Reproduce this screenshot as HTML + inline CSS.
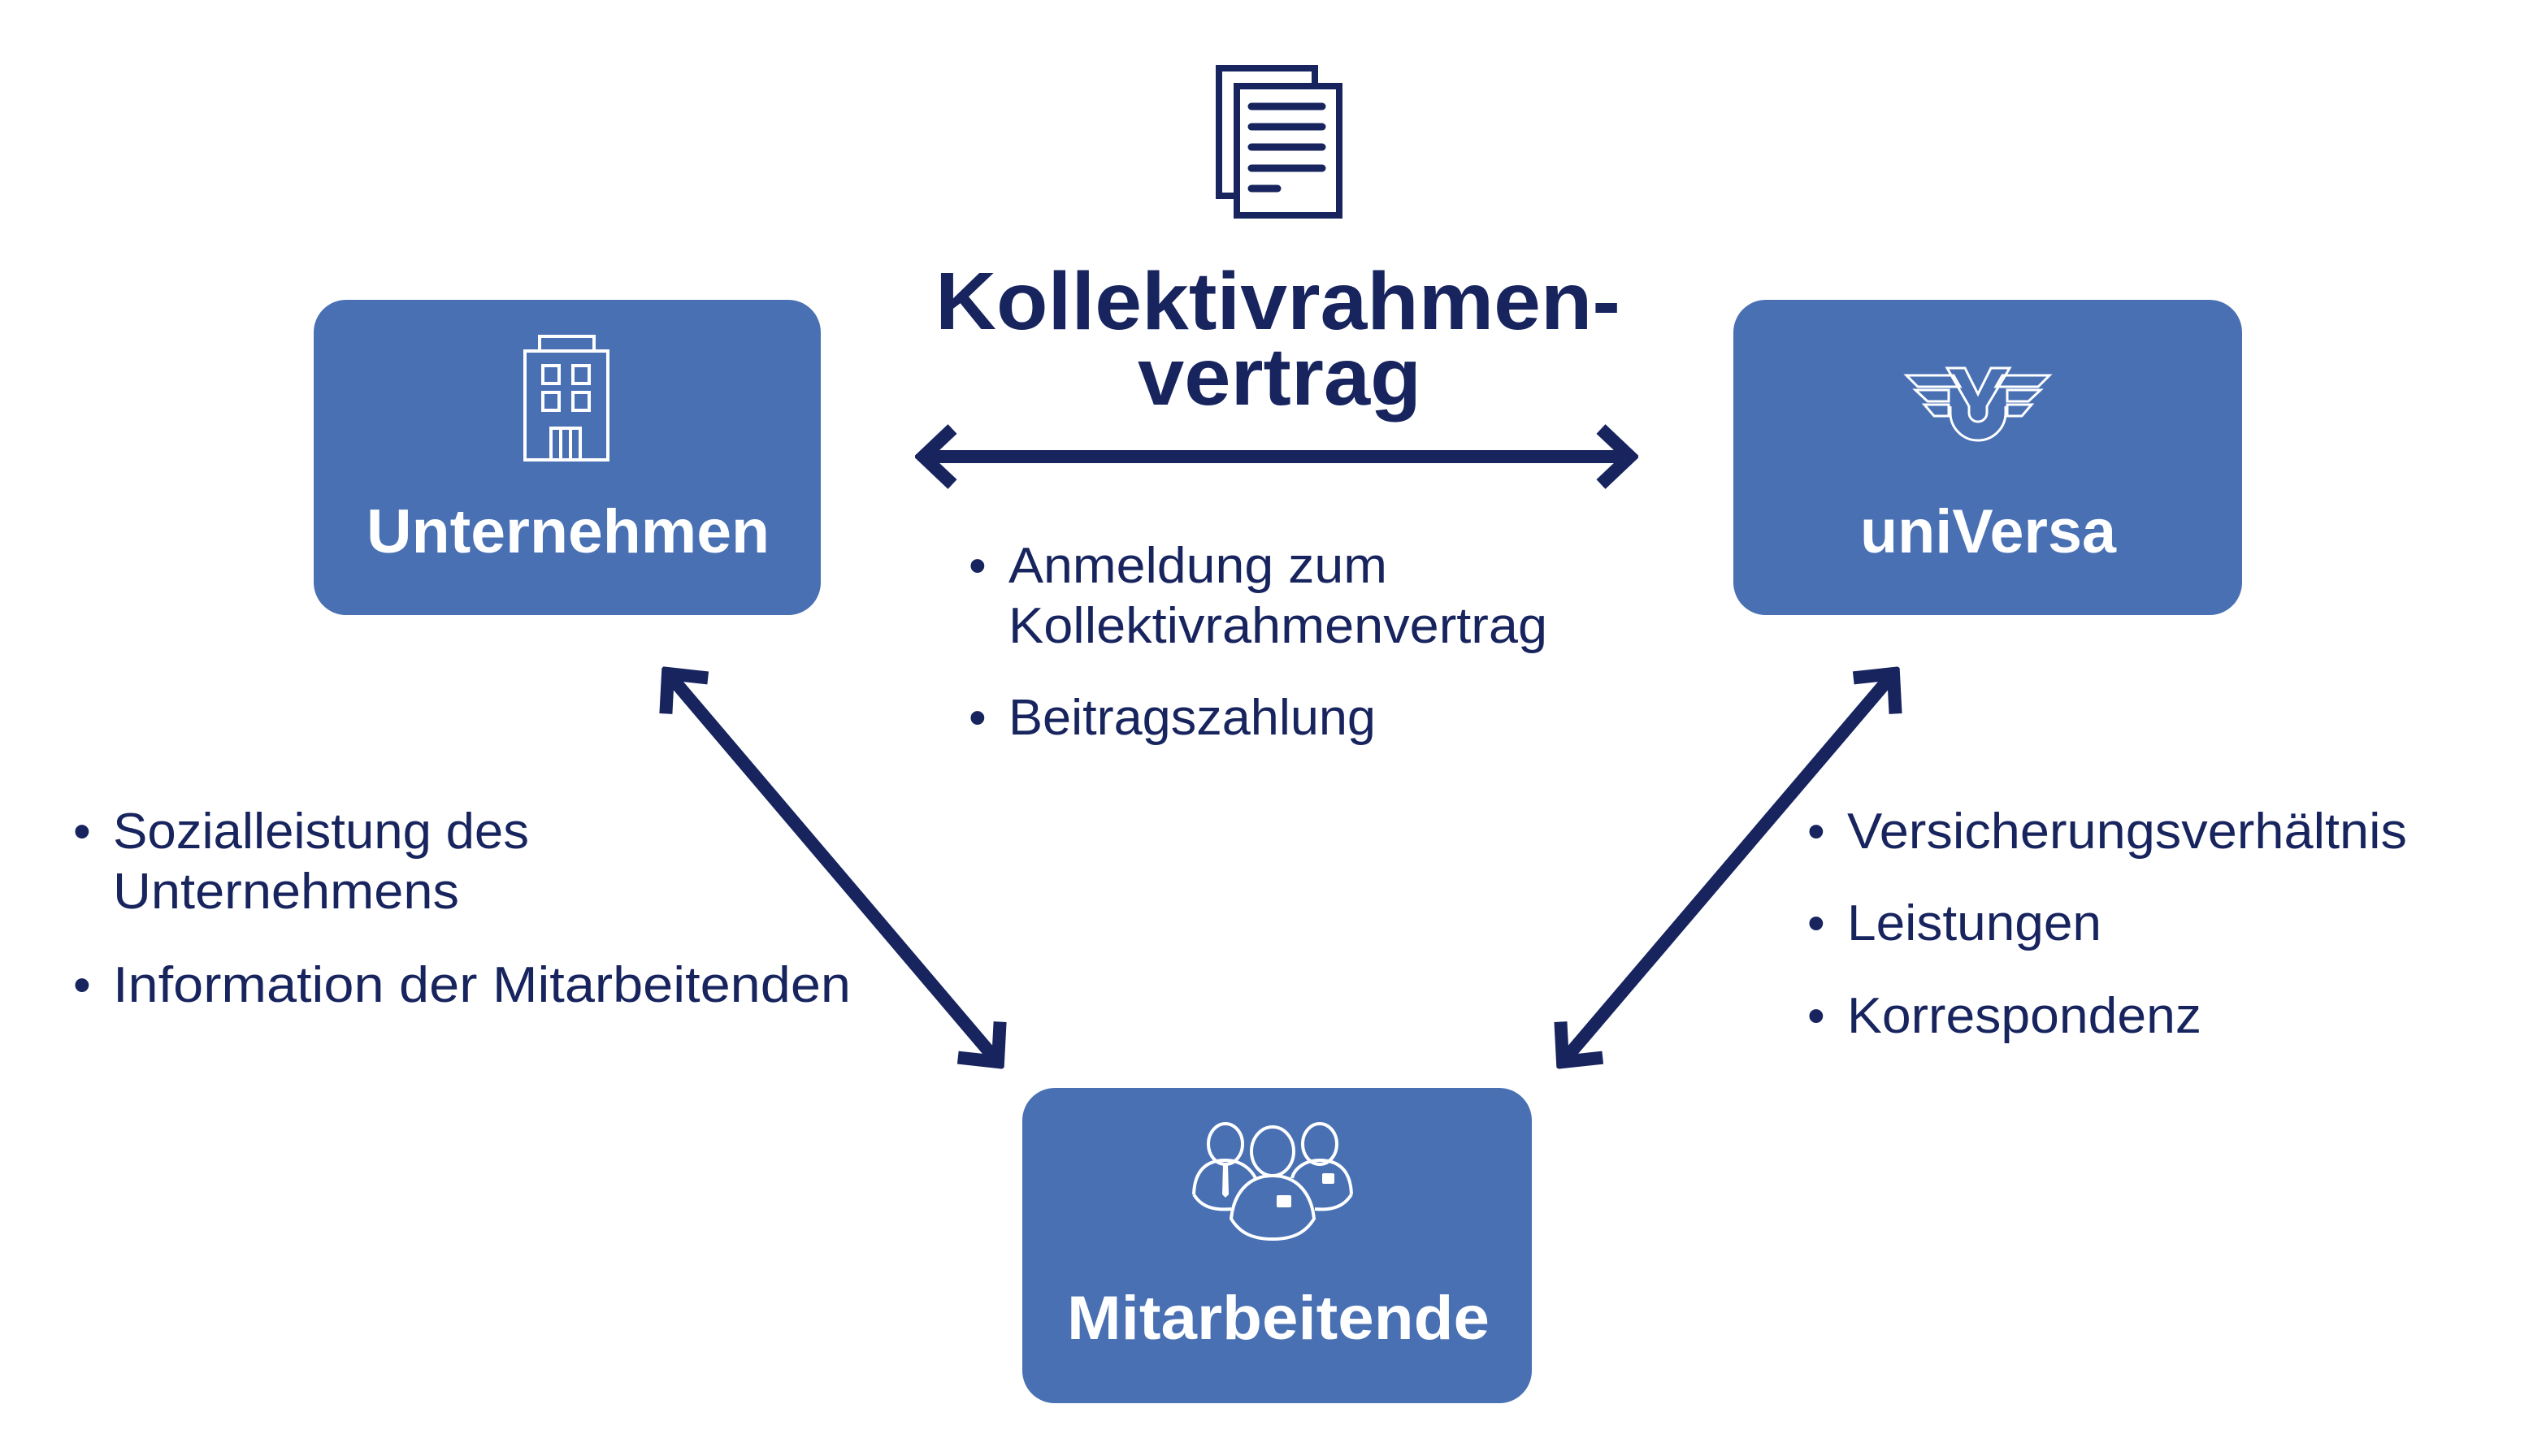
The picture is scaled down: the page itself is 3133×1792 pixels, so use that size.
<!DOCTYPE html>
<html><head><meta charset="utf-8"><style>
html,body{margin:0;padding:0;background:#fff}
svg{display:block}
text{font-family:"Liberation Sans",sans-serif}
</style></head><body>
<svg width="3133" height="1792" viewBox="0 0 3133 1792" xmlns="http://www.w3.org/2000/svg">
<defs>
<marker id="ah" markerUnits="userSpaceOnUse" viewBox="0 0 60 80" refX="50" refY="40" markerWidth="60" markerHeight="80" orient="auto-start-reverse">
<polyline points="14,6 50,40 14,74" fill="none" stroke="#17245e" stroke-width="16" stroke-linejoin="miter" stroke-miterlimit="10"/>
</marker>
</defs>
<!-- boxes -->
<rect x="386" y="369" width="624" height="388" rx="40" fill="#4870b3"/>
<rect x="2133" y="369" width="626" height="388" rx="40" fill="#4870b3"/>
<rect x="1258" y="1339" width="627" height="388" rx="40" fill="#4870b3"/>
<text x="451" y="680" font-size="76" font-weight="bold" fill="#fff" textLength="496" lengthAdjust="spacingAndGlyphs">Unternehmen</text>
<text x="2289" y="680" font-size="76" font-weight="bold" fill="#fff" textLength="315" lengthAdjust="spacingAndGlyphs">uniVersa</text>
<text x="1313" y="1648" font-size="76" font-weight="bold" fill="#fff" textLength="520" lengthAdjust="spacingAndGlyphs">Mitarbeitende</text>

<!-- doc icon -->
<g fill="none" stroke="#17245e" stroke-width="8">
<path d="M1520,241 H1500 V84 H1618 V104"/>
<rect x="1522" y="106" width="126" height="159" fill="#fff"/>
</g>
<g stroke="#17245e" stroke-width="9" stroke-linecap="round">
<line x1="1540" y1="131" x2="1627" y2="131"/>
<line x1="1540" y1="156" x2="1627" y2="156"/>
<line x1="1540" y1="181" x2="1627" y2="181"/>
<line x1="1540" y1="207" x2="1627" y2="207"/>
<line x1="1540" y1="232" x2="1572" y2="232"/>
</g>

<!-- title -->
<text x="1151" y="405" font-size="100" font-weight="bold" fill="#17245e" textLength="843" lengthAdjust="spacingAndGlyphs">Kollektivrahmen-</text>
<text x="1400" y="498" font-size="100" font-weight="bold" fill="#17245e" textLength="349" lengthAdjust="spacingAndGlyphs">vertrag</text>

<!-- arrows -->
<g stroke="#17245e" stroke-width="16" fill="none">
<line x1="1136" y1="562" x2="2006" y2="562" marker-start="url(#ah)" marker-end="url(#ah)"/>
<line x1="822" y1="829" x2="1228" y2="1307" marker-start="url(#ah)" marker-end="url(#ah)"/>
<line x1="2330" y1="829" x2="1923" y2="1307" marker-start="url(#ah)" marker-end="url(#ah)"/>
</g>

<!-- building icon -->
<g fill="none" stroke="#fff" stroke-width="4">
<rect x="664" y="414" width="67" height="18"/>
<rect x="646" y="432" width="102" height="134"/>
<rect x="668" y="450" width="20" height="22"/><rect x="705" y="450" width="20" height="22"/>
<rect x="668" y="483" width="20" height="22"/><rect x="705" y="483" width="20" height="22"/>
<rect x="678" y="527" width="36" height="39"/>
<line x1="690" y1="527" x2="690" y2="566"/><line x1="702" y1="527" x2="702" y2="566"/>
</g>

<!-- uniVersa logo -->
<g fill="none" stroke="#fff" stroke-width="3" stroke-linejoin="miter">
<path d="M2346,462 H2404 L2412,476 H2360 Z"/>
<path d="M2357,480 H2398 V494 H2372 Z"/>
<path d="M2368,498 H2398 V512 H2380 Z"/>
<path d="M2522,462 H2464 L2456,476 H2508 Z"/>
<path d="M2511,480 H2470 V494 H2496 Z"/>
<path d="M2500,498 H2470 V512 H2488 Z"/>
<path d="M2400,500 V508 A34,34 0 0 0 2468,508 V500"/>
<path d="M2396,453 H2418 L2434,485 L2450,453 H2473 L2445,500 V508 A11,11 0 0 1 2423,508 V500 Z"/>
</g>

<!-- people icon -->
<g fill="none" stroke="#fff" stroke-width="4">
<ellipse cx="1508" cy="1408" rx="21" ry="25"/>
<ellipse cx="1624" cy="1408" rx="21" ry="25"/>
<path d="M1469,1470 C1470,1440 1485,1428 1508,1428 C1528,1428 1540,1440 1545,1450 M1469,1470 C1478,1485 1493,1490 1515,1488"/>
<path d="M1663,1470 C1662,1440 1647,1428 1624,1428 C1604,1428 1592,1440 1590,1450 M1663,1470 C1654,1485 1639,1490 1618,1488"/>
<ellipse cx="1566" cy="1417" rx="26" ry="30"/>
<path d="M1515,1500 C1518,1470 1535,1447 1566,1447 C1597,1447 1614,1470 1617,1500 C1606,1518 1590,1525 1566,1525 C1542,1525 1526,1518 1515,1500 Z"/>
</g>
<g fill="#fff">
<path d="M1505,1433 H1511 L1512,1470 L1508,1474 L1504,1470 Z"/>
<rect x="1571" y="1471" width="18" height="15" rx="2"/>
<rect x="1627" y="1444" width="15" height="13" rx="2"/>
</g>

<!-- bullet text -->
<g font-size="62" fill="#17245e">
<text x="1192" y="717">•</text><text x="1241" y="717" textLength="466" lengthAdjust="spacingAndGlyphs">Anmeldung zum</text>
<text x="1241" y="791" textLength="663" lengthAdjust="spacingAndGlyphs">Kollektivrahmenvertrag</text>
<text x="1192" y="904">•</text><text x="1241" y="904" textLength="452" lengthAdjust="spacingAndGlyphs">Beitragszahlung</text>
<text x="90" y="1044">•</text><text x="139" y="1044" textLength="512" lengthAdjust="spacingAndGlyphs">Sozialleistung des</text>
<text x="139" y="1118" textLength="426" lengthAdjust="spacingAndGlyphs">Unternehmens</text>
<text x="90" y="1233">•</text><text x="139" y="1233" textLength="908" lengthAdjust="spacingAndGlyphs">Information der Mitarbeitenden</text>
<text x="2224" y="1044">•</text><text x="2273" y="1044" textLength="689" lengthAdjust="spacingAndGlyphs">Versicherungsverhältnis</text>
<text x="2224" y="1157">•</text><text x="2273" y="1157" textLength="313" lengthAdjust="spacingAndGlyphs">Leistungen</text>
<text x="2224" y="1271">•</text><text x="2273" y="1271" textLength="436" lengthAdjust="spacingAndGlyphs">Korrespondenz</text>
</g>
</svg>
</body></html>
